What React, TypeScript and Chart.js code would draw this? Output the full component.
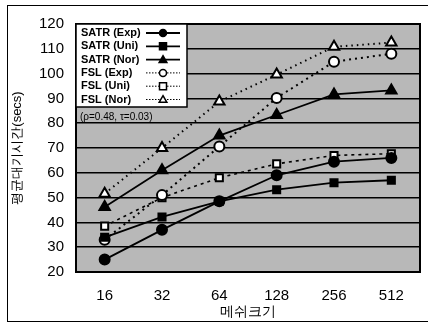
import React, { useEffect, useRef } from "react";
import { Chart, registerables } from "chart.js";

Chart.register(...registerables);

const categories = ["16", "32", "64", "128", "256", "512"];
const seriesLabels = ["SATR (Exp)", "SATR (Uni)", "SATR (Nor)", "FSL (Exp)", "FSL (Uni)", "FSL (Nor)"];
const satrExp = [25, 37, 48.5, 59, 64.5, 66];
const satrUni = [34, 42.2, 48.5, 53.2, 56, 57];
const satrNor = [46.2, 61, 75, 83.3, 91.6, 93.2];
const fslExp = [33, 51, 70.6, 90.2, 104.8, 108];
const fslUni = [38.5, 50, 58, 63.6, 67, 67.7];
const fslNor = [51.6, 70, 88.7, 99.6, 110.8, 112.5];
const yTitle = "평균대기시간(secs)";
const xTitle = "메쉬크기";
const note = "(ρ=0.48, τ=0.03)";

const FONT = "Arial, 'Liberation Sans', sans-serif";

type Style = { pointStyle: string; fill: string; dash: number[]; width: number };
const styles: Style[] = [
  { pointStyle: "circle", fill: "#000", dash: [], width: 1.8 },
  { pointStyle: "rect", fill: "#000", dash: [], width: 1.8 },
  { pointStyle: "triangle", fill: "#000", dash: [], width: 1.8 },
  { pointStyle: "circle", fill: "#fff", dash: [2, 4], width: 2 },
  { pointStyle: "rect", fill: "#fff", dash: [3, 4], width: 1.6 },
  { pointStyle: "triangle", fill: "#fff", dash: [1.5, 4], width: 2 },
];

function drawMarker(ctx: CanvasRenderingContext2D, style: string, x: number, y: number, r: number, fill: string) {
  ctx.beginPath();
  if (style === "circle") {
    ctx.arc(x, y, r, 0, Math.PI * 2);
  } else if (style === "rect") {
    ctx.rect(x - r, y - r, 2 * r, 2 * r);
  } else {
    ctx.moveTo(x, y - r * 1.1);
    ctx.lineTo(x + r * 1.1, y + r * 0.8);
    ctx.lineTo(x - r * 1.1, y + r * 0.8);
    ctx.closePath();
  }
  ctx.fillStyle = fill;
  ctx.fill();
  ctx.stroke();
}

const plotBgPlugin = {
  id: "plotBg",
  beforeDraw(chart: any) {
    const { ctx, chartArea: a } = chart;
    ctx.save();
    ctx.fillStyle = "#fff";
    ctx.fillRect(0, 0, chart.width, chart.height);
    ctx.fillStyle = "#b8b8b8";
    ctx.fillRect(a.left, a.top, a.right - a.left, a.bottom - a.top);
    ctx.strokeStyle = "#000";
    ctx.lineWidth = 1;
    ctx.strokeRect(7.5, 5.5, chart.width, 316);
    ctx.restore();
  },
  afterDatasetsDraw(chart: any) {
    const { ctx, chartArea: a } = chart;
    ctx.save();
    ctx.strokeStyle = "#000";
    ctx.lineWidth = 2;
    ctx.strokeRect(a.left, a.top, a.right - a.left, a.bottom - a.top);
    const lx = a.left, ly = a.top, lw = 111, lh = 83;
    ctx.fillStyle = "#fff";
    ctx.fillRect(lx, ly, lw, lh);
    ctx.lineWidth = 1.5;
    ctx.strokeRect(lx, ly, lw, lh);
    ctx.font = `bold 11px ${FONT}`;
    ctx.textBaseline = "middle";
    ctx.textAlign = "left";
    chart.data.datasets.forEach((ds: any, i: number) => {
      const y = ly + 9 + i * 13.3;
      ctx.fillStyle = "#000";
      ctx.fillText(ds.label, lx + 5, y);
      const st = styles[i];
      ctx.save();
      ctx.setLineDash(st.dash.length ? [1.5, 1.5] : []);
      ctx.lineWidth = st.dash.length ? 1 : 1.8;
      ctx.beginPath();
      ctx.moveTo(lx + 70, y);
      ctx.lineTo(lx + 104, y);
      ctx.stroke();
      ctx.restore();
      ctx.save();
      ctx.setLineDash([]);
      ctx.lineWidth = 1.5;
      ctx.strokeStyle = "#000";
      drawMarker(ctx, st.pointStyle, lx + 87, y, 3.5, st.fill);
      ctx.restore();
    });
    ctx.fillStyle = "#000";
    ctx.font = `10px ${FONT}`;
    ctx.fillText(note, lx + 4, a.top + 93);
    ctx.restore();
  },
};

export default function App() {
  const ref = useRef<HTMLCanvasElement>(null);
  useEffect(() => {
    const values = [satrExp, satrUni, satrNor, fslExp, fslUni, fslNor];
    const datasets = values.map((v, i) => ({
      label: seriesLabels[i],
      data: v,
      borderColor: "#000",
      borderWidth: styles[i].width,
      borderDash: styles[i].dash,
      pointStyle: styles[i].pointStyle,
      pointRadius: styles[i].pointStyle === "triangle" ? 6 : 5,
      pointBackgroundColor: styles[i].fill,
      pointBorderColor: "#000",
      pointBorderWidth: 2,
      tension: 0,
      fill: false,
    }));
    const chart = new Chart(ref.current!, {
      type: "line",
      data: { labels: categories, datasets },
      options: {
        animation: false,
        responsive: false,
        layout: { padding: { left: 8, right: 8, top: 24, bottom: 3 } },
        plugins: { legend: { display: false }, tooltip: { enabled: false } },
        scales: {
          x: {
            offset: true,
            grid: { display: false, drawOnChartArea: false, drawTicks: true, tickLength: 5, tickColor: "#000" },
            border: { color: "#000", width: 2 },
            ticks: { color: "#000", font: { family: FONT, size: 15 }, padding: 10 },
            title: { display: true, text: xTitle, color: "#000", font: { family: FONT, size: 14 }, padding: { top: 0, bottom: 0 } },
            afterFit(scale: any) { scale.height = 49; },
          },
          y: {
            min: 20,
            max: 120,
            ticks: { stepSize: 10, color: "#000", font: { family: FONT, size: 15 }, padding: 12 },
            grid: { color: "#000", lineWidth: 1.6, drawTicks: false },
            border: { color: "#000", width: 2 },
            title: { display: true, text: yTitle, color: "#000", font: { family: FONT, size: 13 }, padding: { top: 2, bottom: 0 } },
            afterFit(scale: any) { scale.width = 68; },
          },
        },
      },
      plugins: [plotBgPlugin],
    });
    return () => chart.destroy();
  }, []);
  return (
    <div style={{ position: "fixed", left: 0, top: 0, width: 428, height: 324, background: "#fff" }}>
      <canvas ref={ref} width={428} height={324} style={{ display: "block" }} />
    </div>
  );
}
